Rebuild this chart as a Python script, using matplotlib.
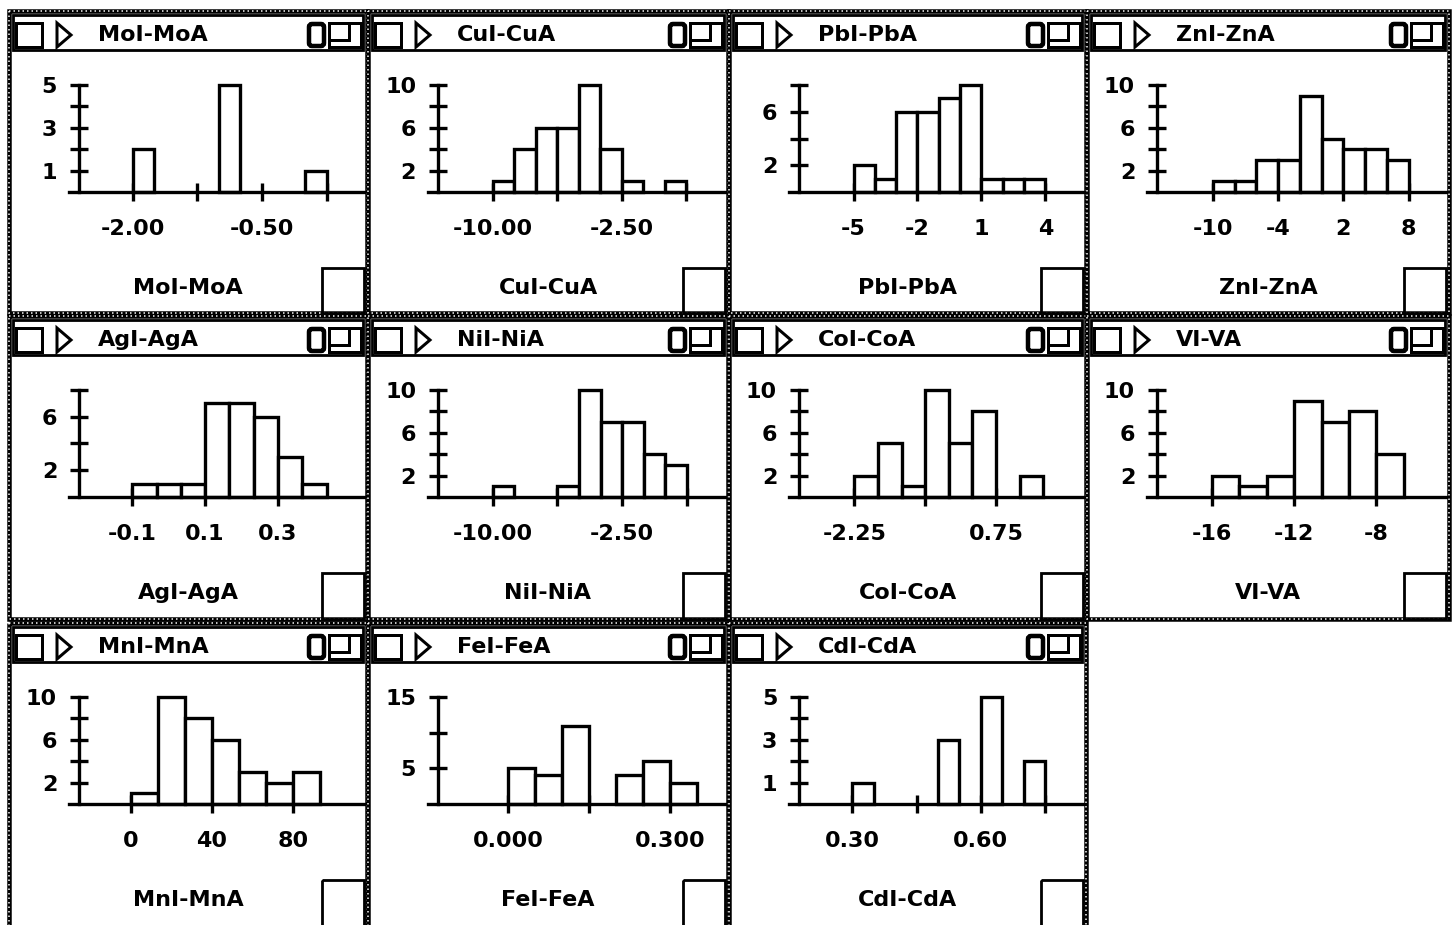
import numpy as np
import matplotlib.pyplot as plt
from matplotlib.patches import Rectangle, Polygon, FancyBboxPatch

plt.rcParams['font.family'] = ['DejaVu Sans']
plt.rcParams['font.weight'] = 'bold'
plt.rcParams['axes.linewidth'] = 2.4

W, H = 1456, 925
PX = 0.72  # points per pixel at dpi 100

# one entry per window, left to right, top to bottom
titles = ['MoI-MoA', 'CuI-CuA', 'PbI-PbA', 'ZnI-ZnA',
          'AgI-AgA', 'NiI-NiA', 'CoI-CoA', 'VI-VA',
          'MnI-MnA', 'FeI-FeA', 'CdI-CdA']

# histogram bins: first edge, bin width, counts
bin_start = [-2.0, -10.0, -5.0, -10.0, -0.1, -10.0, -2.25, -16.0, 0.0, 0.0, 0.30]
bin_width = [0.25, 1.25, 1.0, 2.0, 0.0667, 1.25, 0.5, 1.333, 13.33, 0.05, 0.05]
counts = [
    [2, 0, 0, 0, 5, 0, 0, 0, 1],
    [1, 4, 6, 6, 10, 4, 1, 0, 1],
    [2, 1, 6, 6, 7, 8, 1, 1, 1],
    [1, 1, 3, 3, 9, 5, 4, 4, 3],
    [1, 1, 1, 7, 7, 6, 3, 1],
    [1, 0, 0, 1, 10, 7, 7, 4, 3],
    [2, 5, 1, 10, 5, 8, 0, 2],
    [2, 1, 2, 9, 7, 8, 4],
    [1, 10, 8, 6, 3, 2, 3],
    [5, 4, 11, 0, 4, 6, 3],
    [1, 0, 0, 0, 3, 0, 5, 0, 2],
]

# x range shown (from the y axis to the window edge)
x_view = [(-2.62, 0.68), (-13.18, 3.52), (-7.56, 5.77), (-15.12, 11.42),
          (-0.246, 0.536), (-13.17, 3.45), (-3.42, 2.59), (-18.67, -4.62),
          (-25.7, 115.1), (-0.130, 0.401), (0.175, 0.839)]

x_ticks = [[-2.0, -0.5], [-10.0, -2.5], [-5, -2, 1, 4], [-10, -4, 2, 8],
           [-0.1, 0.1, 0.3], [-10.0, -2.5], [-2.25, 0.75], [-16, -12, -8],
           [0, 40, 80], [0.0, 0.3], [0.30, 0.60]]
x_ticklabels = [['-2.00', '-0.50'], ['-10.00', '-2.50'], ['-5', '-2', '1', '4'],
                ['-10', '-4', '2', '8'], ['-0.1', '0.1', '0.3'], ['-10.00', '-2.50'],
                ['-2.25', '0.75'], ['-16', '-12', '-8'], ['0', '40', '80'],
                ['0.000', '0.300'], ['0.30', '0.60']]
x_minor = [[-1.25, 0.25], [-6.25, 1.25], [], [], [], [-6.25, 1.25], [-0.75],
           [], [], [0.15], [0.45, 0.75]]

y_ticks = [[1, 3, 5], [2, 6, 10], [2, 6], [2, 6, 10], [2, 6], [2, 6, 10],
           [2, 6, 10], [2, 6, 10], [2, 6, 10], [5, 15], [1, 3, 5]]
y_minor = [[2, 4], [4, 8], [4, 8], [4, 8], [4, 8], [4, 8], [4, 8], [4, 8],
           [4, 8], [10], [2, 4]]

col_left = [9, 368, 729, 1087]
col_right = [367, 728, 1086, 1449]
row_top = [11, 316, 623]
row_bot = [313, 619, 945]

fig = plt.figure(figsize=(W / 100, H / 100), dpi=100)
bg = fig.add_axes([0, 0, 1, 1])
bg.set_xlim(0, W)
bg.set_ylim(H, 0)
bg.axis('off')

for i, title in enumerate(titles):
    r, c = divmod(i, 4)
    L, R, T, B = col_left[c], col_right[c], row_top[r], row_bot[r]

    # window frame with the dotted desktop edge
    bg.add_patch(Rectangle((L, T), R - L, B - T, fill=False, ec='black', lw=4.5 * PX))
    bg.add_patch(Rectangle((L, T), R - L, B - T, fill=False, ec='white',
                           lw=1.5 * PX, ls=(0, (1, 2))))

    # title bar
    bg.add_patch(Rectangle((L + 4, T + 4), R - L - 8, 35, fc='white', ec='black', lw=2.8 * PX))
    bg.add_patch(Rectangle((L + 7, T + 12), 26, 24, fill=False, ec='black', lw=3 * PX))
    bg.add_patch(Polygon([(L + 48, T + 12), (L + 62, T + 24), (L + 48, T + 36)],
                         closed=True, fill=False, ec='black', lw=3 * PX))
    bg.text(L + 89, T + 24, title, ha='left', va='center', fontsize=16)
    bg.add_patch(FancyBboxPatch((R - 58, T + 13), 15, 22,
                                boxstyle='round,pad=0,rounding_size=3',
                                fill=False, ec='black', lw=4.5 * PX))
    bg.add_patch(Rectangle((R - 38, T + 12), 32, 24, fill=False, ec='black', lw=3 * PX))
    bg.add_patch(Rectangle((R - 38, T + 12), 20, 17, fill=False, ec='black', lw=3 * PX))

    # grow box and axis label
    bg.add_patch(Rectangle((R - 45, T + 257), 42, B - T - 257, fill=False, ec='black', lw=2.8 * PX))
    bg.text((L + R) / 2, T + 277, title, ha='center', va='center', fontsize=16)

    # histogram axes: y axis at L+70, baseline T+181, top tick T+74
    xl, xr = x_view[i]
    y_axis_px = L + 70
    right_px = R - 3
    dpp = (xr - xl) / (right_px - y_axis_px)
    ax_left = y_axis_px - 10
    base_px, top_px = T + 181, T + 74
    ax = fig.add_axes([ax_left / W, 1 - base_px / H,
                       (right_px - ax_left) / W, (base_px - top_px) / H])
    ax.set_facecolor('none')

    ymax = max(y_ticks[i] + y_minor[i])
    n = np.array(counts[i])
    edges = bin_start[i] + bin_width[i] * np.arange(len(n))
    keep = n > 0
    ax.bar(edges[keep], n[keep], width=bin_width[i], align='edge',
           fc='white', ec='black', lw=2.4, clip_on=False, zorder=3)

    ax.set_xlim(xl - 10 * dpp, xr)
    ax.set_ylim(0, ymax)
    ax.spines['top'].set_visible(False)
    ax.spines['right'].set_visible(False)
    ax.spines['left'].set_position(('data', xl))
    ax.spines['left'].set_bounds(0, ymax)
    ax.spines['left'].set_zorder(4)
    ax.spines['bottom'].set_zorder(4)

    ax.set_xticks(x_ticks[i])
    ax.set_xticklabels(x_ticklabels[i])
    ax.set_xticks(x_minor[i], minor=True)
    ax.set_yticks(y_ticks[i])
    ax.set_yticks(y_minor[i], minor=True)
    ax.tick_params(which='both', direction='inout', length=13.5, width=2.4,
                   labelsize=16)
    ax.tick_params(axis='y', which='both', pad=9)
    ax.tick_params(axis='x', which='both', pad=13)

fig.savefig('out.png', dpi=100, facecolor='white')
